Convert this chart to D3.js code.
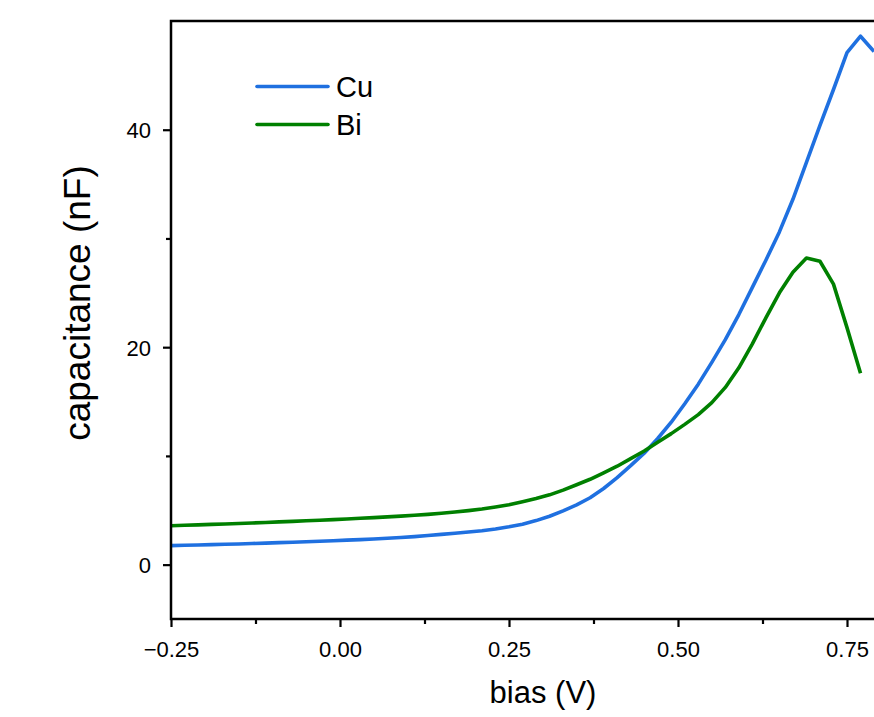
<!DOCTYPE html>
<html>
<head>
<meta charset="utf-8">
<script src="https://cdn.jsdelivr.net/npm/d3@7"></script>
<style>
  html, body { margin: 0; padding: 0; background: #fff; }
  svg { display: block; font-family: "Liberation Sans", Arial, sans-serif; }
</style>
</head>
<body>
<svg id="chart" width="874" height="717"></svg>
<script>
// ---- Data ----
const bias = [
  -0.25, -0.23, -0.21, -0.19, -0.17, -0.15, -0.13, -0.11, -0.09, -0.07,
  -0.05, -0.03, -0.01, 0.01, 0.03, 0.05, 0.07, 0.09, 0.11, 0.13,
  0.15, 0.17, 0.19, 0.21, 0.23, 0.25, 0.27, 0.29, 0.31, 0.33,
  0.35, 0.37, 0.39, 0.41, 0.43, 0.45, 0.47, 0.49, 0.51, 0.53,
  0.55, 0.57, 0.59, 0.61, 0.63, 0.65, 0.67, 0.69, 0.71, 0.73,
  0.75, 0.77, 0.79
];
const cuValues = [
  1.75, 1.78, 1.81, 1.84, 1.87, 1.90, 1.94, 1.98, 2.02, 2.06,
  2.10, 2.15, 2.20, 2.25, 2.30, 2.36, 2.43, 2.50, 2.58, 2.68,
  2.78, 2.89, 3.00, 3.12, 3.28, 3.48, 3.72, 4.05, 4.45, 4.95,
  5.50, 6.15, 7.00, 8.00, 9.10, 10.25, 11.60, 13.10, 14.80, 16.60,
  18.60, 20.70, 23.00, 25.50, 28.00, 30.60, 33.60, 37.00, 40.40, 43.70,
  47.10, 48.60, 47.20
];
const biValues = [
  3.58, 3.62, 3.66, 3.70, 3.74, 3.78, 3.83, 3.88, 3.93, 3.98,
  4.03, 4.08, 4.14, 4.20, 4.26, 4.32, 4.39, 4.46, 4.54, 4.62,
  4.72, 4.84, 4.97, 5.12, 5.30, 5.50, 5.78, 6.08, 6.42, 6.85,
  7.35, 7.85, 8.45, 9.05, 9.75, 10.45, 11.25, 12.05, 12.90, 13.80,
  14.90, 16.30, 18.10, 20.30, 22.70, 25.00, 26.90, 28.20, 27.90, 25.80,
  21.80, 17.60
];
const seriesNames = ["Cu", "Bi"];
const seriesColors = ["#1f70e0", "#008000"];
const xTicks = [-0.25, 0.00, 0.25, 0.50, 0.75];
const xMinorTicks = [-0.125, 0.125, 0.375, 0.625];
const yTicks = [0, 20, 40];
const yMinorTicks = [10, 30];
const xTitle = "bias (V)";
const yTitle = "capacitance (nF)";

// ---- Layout ----
const svg = d3.select("#chart");
const plotLeft = 171, plotTop = 21, plotBottom = 619;
const pxPerUnit = 676;
const xDomain = [-0.25, 0.80];
const x = d3.scaleLinear().domain(xDomain).range([plotLeft, plotLeft + (xDomain[1] - xDomain[0]) * pxPerUnit]);
const y = d3.scaleLinear().domain([-5, 50]).range([plotBottom, plotTop]);
const plotRight = x.range()[1];

svg.append("defs").append("clipPath").attr("id", "clip")
  .append("rect").attr("x", plotLeft).attr("y", plotTop).attr("width", plotRight - plotLeft).attr("height", plotBottom - plotTop);

// data lines
const series = [
  { name: seriesNames[0], color: seriesColors[0], values: cuValues },
  { name: seriesNames[1], color: seriesColors[1], values: biValues }
];
const line = d3.line().x(d => x(d[0])).y(d => y(d[1]));
const g = svg.append("g").attr("clip-path", "url(#clip)");
series.forEach(s => {
  const pts = s.values.map((v, i) => [bias[i], v]);
  g.append("path").attr("d", line(pts))
    .attr("fill", "none").attr("stroke", s.color)
    .attr("stroke-width", 3.6).attr("stroke-linejoin", "round");
});

// frame
svg.append("rect").attr("x", plotLeft).attr("y", plotTop).attr("width", plotRight - plotLeft).attr("height", plotBottom - plotTop)
  .attr("fill", "none").attr("stroke", "#000").attr("stroke-width", 2.5);

// axes
const fmt = d3.format(".2f");
const xAxis = d3.axisBottom(x).tickValues(xTicks).tickSize(8).tickSizeOuter(0);
const xg = svg.append("g").attr("transform", `translate(0,${plotBottom})`).call(xAxis);
xg.select(".domain").remove();
xg.selectAll(".tick line").attr("stroke", "#000").attr("stroke-width", 2.2);
xg.selectAll(".tick text").attr("font-size", 22).attr("fill", "#000").attr("dy", null).attr("y", 38)
  .text(d => d < 0 ? "\u2212" + fmt(-d) : fmt(d));
const xMinor = d3.axisBottom(x).tickValues(xMinorTicks).tickSize(5).tickFormat("");
const xmg = svg.append("g").attr("transform", `translate(0,${plotBottom})`).call(xMinor);
xmg.select(".domain").remove();
xmg.selectAll(".tick line").attr("stroke", "#000").attr("stroke-width", 2.2);

const yAxis = d3.axisLeft(y).tickValues(yTicks).tickFormat(d3.format("d")).tickSize(8).tickSizeOuter(0);
const yg = svg.append("g").attr("transform", `translate(${plotLeft},0)`).call(yAxis);
yg.select(".domain").remove();
yg.selectAll(".tick line").attr("stroke", "#000").attr("stroke-width", 2.2);
yg.selectAll(".tick text").attr("font-size", 22).attr("fill", "#000").attr("x", -20).attr("dy", "0.36em");
const yMinor = d3.axisLeft(y).tickValues(yMinorTicks).tickSize(5).tickFormat("");
const ymg = svg.append("g").attr("transform", `translate(${plotLeft},0)`).call(yMinor);
ymg.select(".domain").remove();
ymg.selectAll(".tick line").attr("stroke", "#000").attr("stroke-width", 2.2);

// titles
svg.append("text").attr("x", 543).attr("y", 703).attr("text-anchor", "middle")
  .attr("font-size", 31).attr("fill", "#000").text(xTitle);
svg.append("text").attr("transform", "translate(90,303) rotate(-90)").attr("text-anchor", "middle")
  .attr("font-size", 37).attr("fill", "#000").text(yTitle);

// legend
const legendY = [86.5, 124.5];
series.forEach((s, i) => {
  svg.append("line").attr("x1", 257).attr("x2", 328).attr("y1", legendY[i]).attr("y2", legendY[i])
    .attr("stroke", s.color).attr("stroke-width", 3.6).attr("stroke-linecap", "round");
  svg.append("text").attr("x", 336).attr("y", legendY[i] + 10.5).attr("font-size", 29)
    .attr("fill", "#000").text(s.name);
});
</script>
</body>
</html>
